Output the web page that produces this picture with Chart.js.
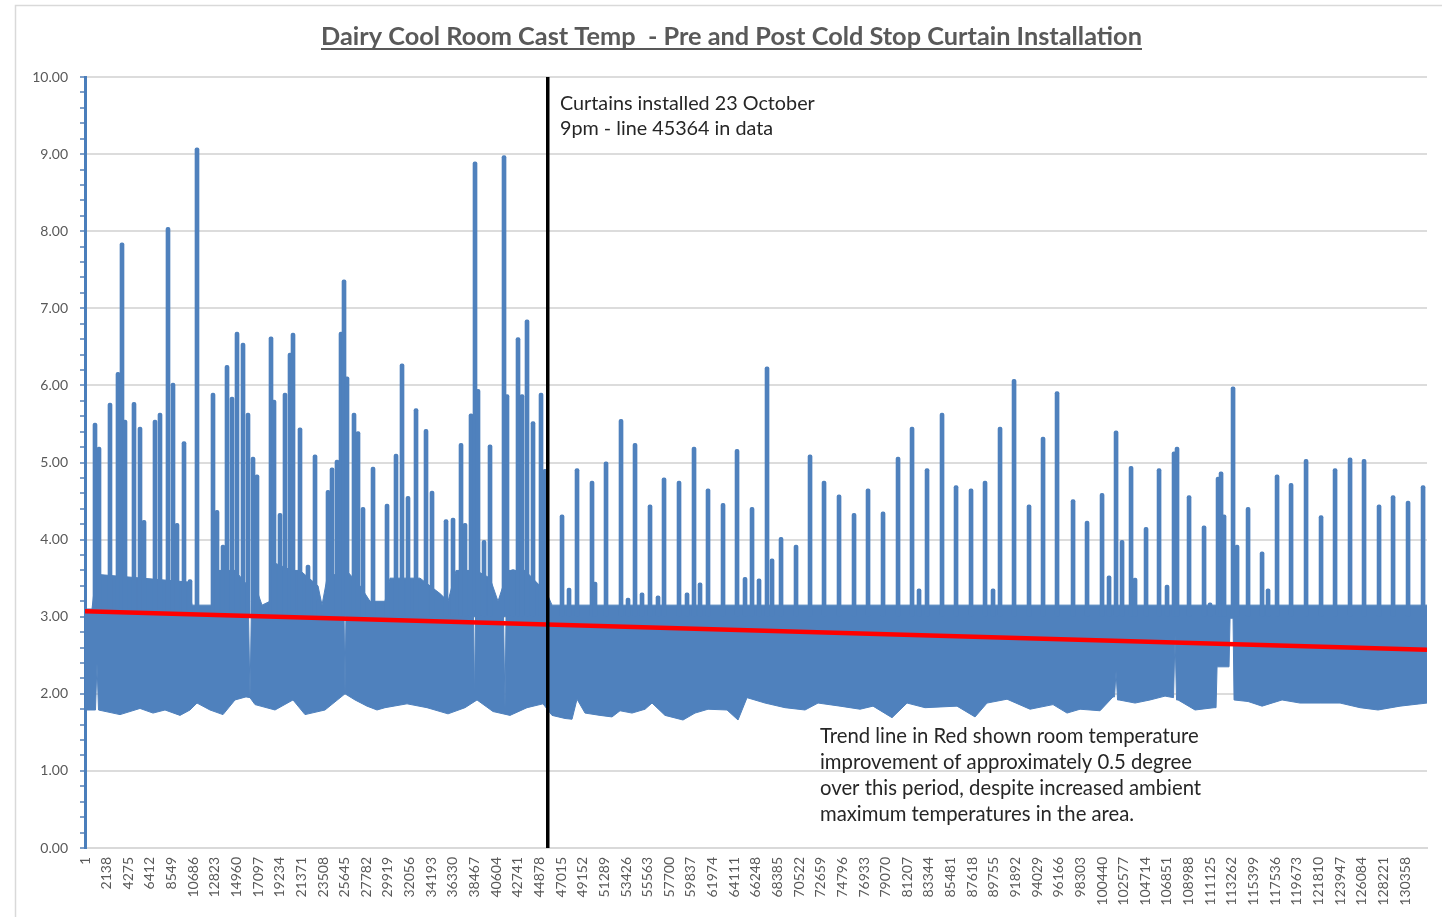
<!DOCTYPE html>
<html>
<head>
<meta charset="utf-8">
<title>Dairy Cool Room Cast Temp</title>
<script src="https://cdn.jsdelivr.net/npm/chart.js@4.4.1/dist/chart.umd.min.js"></script>
<style>
    html, body { margin: 0; padding: 0; background: #fff; }
    canvas { display: block; }
</style>
</head>
<body>
<canvas id="myChart" width="1442" height="917"></canvas>
<script>
"use strict";

// x axis category labels (data row numbers, every 2137 rows)
var xLabels = [1, 2138, 4275, 6412, 8549, 10686, 12823, 14960, 17097, 19234, 21371, 23508, 25645, 27782,
    29919, 32056, 34193, 36330, 38467, 40604, 42741, 44878, 47015, 49152, 51289, 53426, 55563, 57700,
    59837, 61974, 64111, 66248, 68385, 70522, 72659, 74796, 76933, 79070, 81207, 83344, 85481, 87618,
    89755, 91892, 94029, 96166, 98303, 100440, 102577, 104714, 106851, 108988, 111125, 113262, 115399,
    117536, 119673, 121810, 123947, 126084, 128221, 130358];
var lastRow = 132530;

// lower edge of the daily temperature band
var lowRows = [0, 1036, 1185, 1334, 3457, 5432, 6716, 7901, 9382, 10370, 11061, 12345, 13629, 14814,
    15900, 16295, 16789, 18764, 20542, 21727, 23702, 25677, 26665, 27850, 28838, 29628, 31801, 33776,
    35850, 37529, 38714, 40294, 41973, 43652, 45233, 46121, 47405, 48096, 48590, 49380, 50861, 52047,
    52837, 54022, 55306, 55997, 57281, 59058, 60244, 61527, 63404, 64490, 65379, 67157, 69132, 71107,
    72391, 74564, 76539, 77823, 79699, 81181, 82958, 86119, 87896, 89082, 91057, 93328, 95600, 96982,
    98266, 100241, 101524, 101674, 101822, 101970, 102118, 103698, 105179, 106660, 107500, 107648,
    107796, 107944, 109624, 111500, 111698, 111796, 112981, 113080, 113376, 113475, 114858, 116241,
    118216, 119993, 121969, 123944, 125919, 127697, 129869, 132530];
var lowTemps = [1.79, 1.79, 2.40, 1.79, 1.73, 1.81, 1.75, 1.79, 1.72, 1.79, 1.88, 1.79, 1.73, 1.92,
    1.96, 1.95, 1.86, 1.79, 1.92, 1.73, 1.79, 2.00, 1.92, 1.84, 1.79, 1.82, 1.87, 1.82,
    1.74, 1.82, 1.92, 1.77, 1.72, 1.82, 1.87, 1.72, 1.68, 1.67, 1.93, 1.75, 1.72, 1.70,
    1.78, 1.75, 1.80, 1.88, 1.72, 1.66, 1.75, 1.80, 1.79, 1.66, 1.95, 1.88, 1.82, 1.79,
    1.88, 1.84, 1.80, 1.84, 1.69, 1.88, 1.82, 1.84, 1.70, 1.88, 1.93, 1.80, 1.86, 1.75,
    1.80, 1.78, 1.96, 1.96, 2.30, 1.92, 1.92, 1.88, 1.92, 1.97, 1.95, 2.76,
    1.92, 1.92, 1.79, 1.82, 1.82, 2.35, 2.35, 2.98, 2.98, 1.92, 1.90, 1.84,
    1.92, 1.88, 1.88, 1.88, 1.82, 1.79, 1.84, 1.88];

// upper edge of the daily temperature band
var highRows = [0, 691, 1086, 10172, 10567, 12543, 12938, 14814, 16098, 16148, 16295, 16443, 17085,
    17481, 18271, 18666, 20443, 21233, 23011, 23406, 23900, 25529, 25677, 25825, 27159, 28147, 29628,
    30122, 33085, 35060, 35850, 36640, 38319, 38467, 38615, 39998, 40788, 41282, 41331, 41479, 41627,
    43454, 44936, 45627, 46121, 132530];
var highTemps = [3.10, 3.10, 3.55, 3.45, 3.15, 3.15, 3.60, 3.60, 3.40, 3.40, 1.95, 3.20, 3.30,
    3.15, 3.20, 3.70, 3.60, 3.60, 3.40, 3.15, 3.50, 3.60, 2.00, 3.60, 3.40, 3.20, 3.20,
    3.50, 3.50, 3.30, 3.20, 3.60, 3.60, 1.90, 3.60, 3.50, 3.20, 3.40, 3.40, 1.80, 3.60,
    3.60, 3.40, 3.30, 3.15, 3.15];

// temperature spikes (defrost / door openings) rising out of the band
var spikeBase = 3.0;
var spikeRows = [988, 1383, 2469, 3259, 3654, 3950, 4839, 5432, 5827, 6913, 7407, 8197, 8691, 9086, 9777,
    10370, 11061, 12641, 13036, 13629, 14024, 14518, 15012, 15604, 16098, 16592, 16987, 18369, 18666,
    19258, 19752, 20246, 20542, 21233, 22023, 22715, 23110, 23999, 24394, 24888, 25283, 25579, 25875,
    26566, 26961, 27455, 28443, 29826, 30714, 31307, 31899, 32690, 33677, 34270, 35653, 36344, 37134,
    37529, 38121, 38516, 38812, 39405, 39998, 41380, 41676, 42269, 42763, 43158, 43652, 44244, 45035,
    45430,
    47109, 47800, 48590, 50071, 50368, 51454, 52935, 53627, 54318, 55009, 55799, 56589, 57182, 58663,
    59454, 60145, 60737, 61527, 63009, 64392, 65182, 65873, 66564, 67354, 67848, 68737, 70218, 71601,
    72984, 74465, 75946, 77329, 78810, 80292, 81675, 82366, 83156, 84637, 86020, 87501, 88884, 89674,
    90365, 91748, 93229, 94612, 95995, 97575, 98958, 100439, 101130, 101822, 102414, 103303, 103698,
    104784, 106068, 106858, 107549, 107845, 109031, 110512, 111105, 111895, 112191, 112487, 113376,
    113771, 114858, 116241, 116833, 117722, 119105, 120586, 122067, 123450, 124931, 126313, 127795,
    129178, 130659, 132141];
var spikeTemps = [5.51, 5.20, 5.77, 6.17, 7.85, 5.55, 5.78, 5.46, 4.25, 5.55, 5.64, 8.05, 6.03, 4.21, 5.27,
    3.48, 9.08, 5.90, 4.38, 3.93, 6.26, 5.85, 6.69, 6.55, 5.64, 5.07, 4.84, 6.63, 5.81,
    4.34, 5.90, 6.42, 6.68, 5.45, 3.67, 5.10, 3.22, 4.64, 4.93, 5.03, 6.69, 7.37, 6.11,
    5.64, 5.40, 4.42, 4.94, 4.46, 5.11, 6.28, 4.56, 5.70, 5.43, 4.63, 4.26, 4.28, 5.25,
    4.21, 5.63, 8.90, 5.95, 3.99, 5.23, 8.98, 5.88, 3.61, 6.62, 5.88, 6.85, 5.53, 5.90,
    4.91,
    4.32, 3.37, 4.92, 4.76, 3.45, 5.01, 5.56, 3.24, 5.25, 3.31, 4.45, 3.27, 4.80, 4.76,
    3.31, 5.20, 3.44, 4.66, 4.47, 5.17, 3.51, 4.42, 3.49, 6.24, 3.75, 4.03, 3.93, 5.10,
    4.76, 4.58, 4.34, 4.66, 4.36, 5.07, 5.46, 3.36, 4.92, 5.64, 4.70, 4.66, 4.76, 3.36,
    5.46, 6.08, 4.45, 5.33, 5.92, 4.52, 4.24, 4.60, 3.53, 5.41, 3.99, 4.95, 3.50,
    4.16, 4.92, 3.41, 5.14, 5.20, 4.57, 4.18, 3.18, 4.81, 4.88, 4.32, 5.98,
    3.93, 4.42, 3.84, 3.36, 4.84, 4.73, 5.04, 4.31, 4.92, 5.06, 5.04, 4.45,
    4.57, 4.50, 4.70];

// linear trend line end points and curtain installation marker
var trendRows = [0, 132530];
var trendTemps = [3.07, 2.57];
var curtainRow = 45700;

var chartTitle = "Dairy Cool Room Cast Temp  - Pre and Post Cold Stop Curtain Installation";
var curtainNote = ["Curtains installed 23 October", "9pm - line 45364 in data"];
var trendNote = ["Trend line in Red shown room temperature",
    "improvement of approximately 0.5 degree",
    "over this period, despite increased ambient",
    "maximum temperatures in the area."];

var blue = '#4f81bd';

function isMajor(v) {
    return Math.abs(v - Math.round(v)) < 1e-6;
}

function toPoints(rows, temps) {
    return rows.map(function(r, i) { return {x: r, y: temps[i]}; });
}

function fitFont(ctx, text, weight, family, width) {
    ctx.font = weight + '20px ' + family;
    var size = 20 * width / ctx.measureText(text).width;
    return weight + size.toFixed(2) + 'px ' + family;
}

var pageText = {
    id: 'pageText',
    beforeDraw: function(chart) {
        var ctx = chart.ctx;
        ctx.save();
        ctx.fillStyle = '#ffffff';
        ctx.fillRect(0, 0, chart.width, chart.height);
        ctx.strokeStyle = '#d9d9d9';
        ctx.lineWidth = 1.5;
        ctx.strokeRect(15.5, 5.5, chart.width + 20, chart.height + 20);
        ctx.restore();
    },
    afterDraw: function(chart) {
        var ctx = chart.ctx;
        ctx.save();
        // title, underlined
        ctx.font = fitFont(ctx, chartTitle, 'bold ', 'Lato', 821);
        ctx.fillStyle = '#595959';
        ctx.textAlign = 'center';
        ctx.textBaseline = 'alphabetic';
        ctx.fillText(chartTitle, 731.5, 45);
        ctx.fillRect(321, 48, 821, 2);

        // notes
        ctx.fillStyle = '#262626';
        ctx.textAlign = 'left';
        ctx.textBaseline = 'middle';
        ctx.font = fitFont(ctx, curtainNote[0], '', 'Lato', 255);
        curtainNote.forEach(function(line, i) {
            ctx.fillText(line, 560, 104 + i * 25);
        });
        ctx.font = fitFont(ctx, trendNote[0], '', 'Lato', 379);
        trendNote.forEach(function(line, i) {
            ctx.fillText(line, 820, 736 + i * 26);
        });
        ctx.restore();
    }
};

var ctx1 = document.getElementById("myChart").getContext('2d');
var myChart = new Chart(ctx1, {
    type: 'line',
    data: {
        datasets: [{
            label: 'Curtains installed',
            data: [{x: curtainRow, y: 0}, {x: curtainRow, y: 10}],
            borderColor: '#000000',
            borderWidth: 3.5,
            pointRadius: 0,
            order: 0
        }, {
            label: 'Trend',
            data: toPoints(trendRows, trendTemps),
            borderColor: '#ff0000',
            borderWidth: 4.5,
            pointRadius: 0,
            order: 1
        }, {
            type: 'bar',
            label: 'Spikes',
            data: spikeRows.map(function(r, i) { return {x: r, y: [spikeBase, spikeTemps[i]]}; }),
            backgroundColor: blue,
            barThickness: 4,
            borderRadius: 2,
            borderSkipped: false,
            order: 2
        }, {
            label: 'Cast temp low',
            data: toPoints(lowRows, lowTemps),
            borderColor: blue,
            borderWidth: 1,
            pointRadius: 0,
            fill: false,
            order: 3
        }, {
            label: 'Cast temp high',
            data: toPoints(highRows, highTemps),
            borderColor: blue,
            backgroundColor: blue,
            borderWidth: 1,
            pointRadius: 0,
            fill: '-1',
            order: 4
        }]
    },
    options: {
        responsive: false,
        animation: false,
        devicePixelRatio: 1,
        events: [],
        layout: {
            padding: { left: 0, right: 15, top: 77, bottom: 0 }
        },
        plugins: {
            legend: { display: false },
            tooltip: { enabled: false },
            title: { display: false }
        },
        scales: {
            x: {
                type: 'linear',
                min: 0,
                max: lastRow,
                offset: false,
                afterFit: function(s) { s.height = 69; },
                afterBuildTicks: function(s) {
                    s.ticks = xLabels.map(function(v) { return {value: v}; });
                },
                ticks: {
                    autoSkip: false,
                    minRotation: 90,
                    maxRotation: 90,
                    padding: 9,
                    color: '#595959',
                    font: { family: 'Lato', size: 14 },
                    callback: function(v) { return String(v); }
                },
                grid: { display: false, drawTicks: false },
                border: { color: '#d9d9d9', width: 2 }
            },
            y: {
                min: 0,
                max: 10,
                afterFit: function(s) { s.width = 85; },
                ticks: {
                    stepSize: 0.2,
                    autoSkip: false,
                    padding: 12,
                    color: '#595959',
                    font: { family: 'Lato', size: 14 },
                    callback: function(v) { return isMajor(v) ? v.toFixed(2) : ''; }
                },
                grid: {
                    color: function(c) { return c.tick && isMajor(c.tick.value) ? '#dcdcdc' : 'rgba(0,0,0,0)'; },
                    lineWidth: 2,
                    tickColor: '#7f9fc8',
                    tickLength: 5
                },
                border: { color: '#4a7ebb', width: 3 }
            }
        }
    },
    plugins: [pageText]
});
</script>
</body>
</html>
